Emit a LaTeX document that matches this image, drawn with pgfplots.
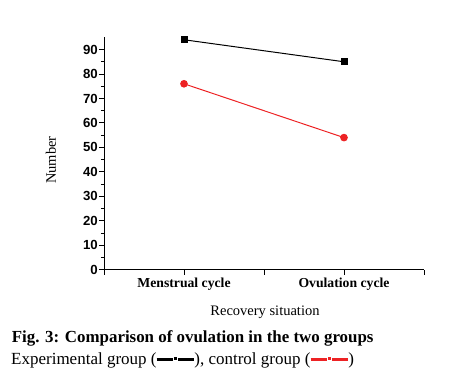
\documentclass[border=0pt]{standalone}
\usepackage{pgfplots}
\pgfplotsset{compat=1.18}
\usepackage{fontspec}
\setmainfont{Liberation Serif}
\newfontfamily\arial{Liberation Sans}
\definecolor{myred}{RGB}{237,34,36}
\newcommand{\legsym}{\rule[3.7bp]{16bp}{2.2bp}\hspace{1.4bp}\rule[4.3bp]{3bp}{2.8bp}\hspace{1.4bp}\rule[3.7bp]{16bp}{2.2bp}}
\begin{document}
\begin{tikzpicture}
\useasboundingbox (-104bp,-109.3bp) rectangle (347bp,269.7bp);
\begin{axis}[
  scale only axis,
  width=320bp, height=232.4bp,
  xmin=0, xmax=4, ymin=0, ymax=95,
  axis x line*=bottom, axis y line*=left,
  axis line style={line width=1pt},
  xtick={0,1,2,3,4},
  xticklabels={,Menstrual cycle,,Ovulation cycle,},
  ytick={0,10,...,90},
  minor y tick num=1,
  tick align=outside,
  major tick length=5bp, minor tick length=3bp,
  tick style={black, line width=0.9pt},
  /pgf/number format/assume math mode=true,
  yticklabel style={font=\fontsize{13.2bp}{15bp}\selectfont\arial\bfseries, inner sep=1bp},
  xticklabel style={font=\fontsize{13.7bp}{15bp}\selectfont\bfseries},
  every axis y label/.style={at={(axis description cs:-0.1656,0.472)},rotate=90,anchor=center},
  every axis x label/.style={at={(axis description cs:0.503,-0.199)},anchor=base},
  ylabel={\fontsize{14.5bp}{16bp}\selectfont Number},
  xlabel={\fontsize{14.5bp}{16bp}\selectfont Recovery situation},
  clip=false,
]
\addplot[black, line width=1pt, mark=square*, mark size=3bp, mark options={solid}] coordinates {(1,94) (3,85)};
\addplot[myred, line width=1pt, mark=*, mark size=3.3bp, mark options={solid}] coordinates {(1,76) (3,54)};
\end{axis}
\node[anchor=base west, inner sep=0pt, font=\fontsize{16.9bp}{18bp}\selectfont\bfseries] at (-92.3bp,-72.3bp) {Fig. 3: Comparison of ovulation in the two groups};
\node[anchor=base west, inner sep=0pt, font=\fontsize{17bp}{18bp}\selectfont] at (-93bp,-94.6bp) {Experimental group (\legsym), control group (\textcolor{myred}{\legsym})};
\end{tikzpicture}
\end{document}
